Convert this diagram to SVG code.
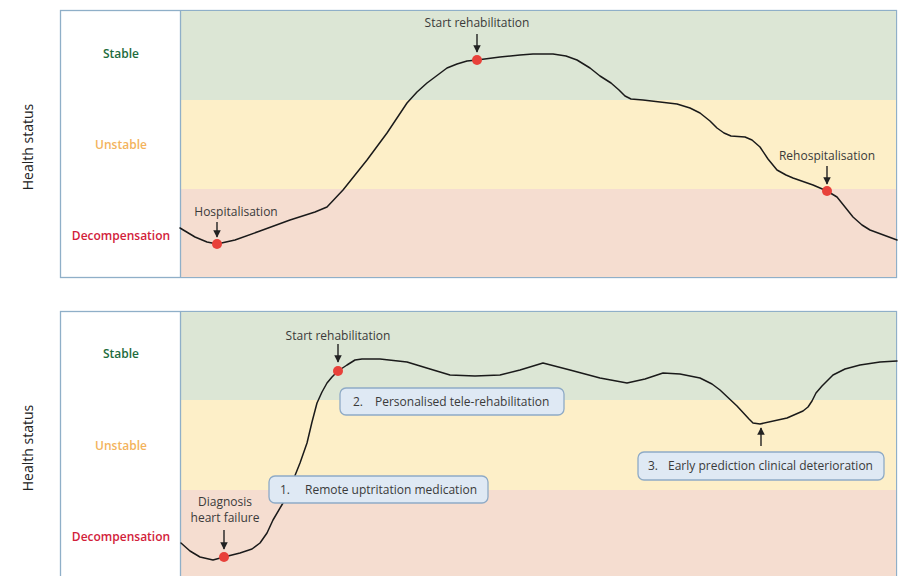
<svg xmlns="http://www.w3.org/2000/svg" width="899" height="576" viewBox="0 0 899 576">
  <defs>
    <marker id="arrowhead" viewBox="0 0 10 10" refX="9" refY="5" markerWidth="5.4" markerHeight="5.4" orient="auto-start-reverse">
      <path d="M0,0 L10,5 L0,10 Z" fill="#222"/>
    </marker>
  </defs>
  <style>
    text { font-family: "Open Sans", "Liberation Sans", sans-serif; }
    .frame { fill: #fff; stroke: #8fafc8; stroke-width: 1.3; }
    .band-stable { fill: #dce6d5; }
    .band-unstable { fill: #fdefc8; }
    .band-decomp { fill: #f5ddd0; }
    .divider { stroke: #8fafc8; stroke-width: 1.3; }
    .axis { font-size: 14px; fill: #222; }
    .lvl { font-size: 12px; font-weight: 600; text-anchor: middle; }
    .lvl-stable { fill: #1d6b3d; }
    .lvl-unstable { fill: #f3b35c; }
    .lvl-decomp { fill: #d2213a; }
    .trend { fill: none; stroke: #1a1a1a; stroke-width: 1.5; stroke-linejoin: round; stroke-linecap: round; }
    .event { fill: #e8413a; }
    .note { font-size: 12px; fill: #3a3a3a; text-anchor: middle; }
    .pointer { stroke: #222; stroke-width: 1.4; fill: none; marker-end: url(#arrowhead); }
    .step rect { fill: #dfe9f4; stroke: #8eaac6; stroke-width: 1.3; }
    .step text { font-size: 12px; fill: #3a3a3a; }
  </style>

  <!-- Panel A: usual care trajectory -->
  <g id="panel-top">
    <rect class="frame" x="60.5" y="10.5" width="836" height="267"/>
    <rect class="band-stable" x="180.5" y="11" width="715.5" height="89"/>
    <rect class="band-unstable" x="180.5" y="100" width="715.5" height="89"/>
    <rect class="band-decomp" x="180.5" y="189" width="715.5" height="88"/>
    <line class="divider" x1="180.5" y1="10.5" x2="180.5" y2="277.5"/>
    <text class="axis" transform="translate(33,147) rotate(-90)" text-anchor="middle">Health status</text>
    <text class="lvl lvl-stable" x="121" y="58">Stable</text>
    <text class="lvl lvl-unstable" x="121" y="149">Unstable</text>
    <text class="lvl lvl-decomp" x="121" y="240">Decompensation</text>
  </g>

  <!-- Panel B: remote monitoring trajectory -->
  <g id="panel-bottom">
    <rect class="frame" x="60.5" y="311.5" width="836" height="280"/>
    <rect class="band-stable" x="180.5" y="312" width="715.5" height="88"/>
    <rect class="band-unstable" x="180.5" y="400" width="715.5" height="90"/>
    <rect class="band-decomp" x="180.5" y="490" width="715.5" height="101"/>
    <line class="divider" x1="180.5" y1="311.5" x2="180.5" y2="591"/>
    <text class="axis" transform="translate(33,448) rotate(-90)" text-anchor="middle">Health status</text>
    <text class="lvl lvl-stable" x="121" y="358">Stable</text>
    <text class="lvl lvl-unstable" x="121" y="450">Unstable</text>
    <text class="lvl lvl-decomp" x="121" y="541">Decompensation</text>
  </g>

  <g id="connectors">
    <path class="trend" d="M180,228 L195,237 L207,242 L217,244 L235,240 L260,231 L290,220 L315,212 L327,207 L343,190 L355,175 L367,160 L387,133 L397,118 L407,103 L417,92 L427,83 L447,68 L457,64 L467,61 L477,60 L500,57 L520,55 L533,54 L553,54 L566,56 L577,60 L590,68 L600,76 L611,83 L619,90 L625,96 L631,99 L643,100 L677,104 L690,108 L700,113 L710,121 L717,128 L724,133 L731,136 L745,137 L752,140 L760,147 L768,159 L777,170 L786,175 L793,178 L813,185 L827,191 L837,197 L845,207 L853,217 L862,225 L870,230 L897,240"/>
    <path class="trend" d="M181,543 L190,551 L200,557 L213,560 L224,557 L240,553 L252,549 L260,543 L267,533 L273,520 L283,503 L292,483 L300,463 L307,443 L312,422 L317,403 L322,392 L327,383 L332,377 L338,371 L347,365 L355,360 L362,359 L380,359 L407,362 L430,369 L450,375 L475,376 L500,375 L520,370 L543,363 L570,370 L600,378 L627,383 L645,379 L663,373 L680,374 L700,378 L712,384 L720,390 L737,406 L749,419 L753,423 L760,424 L787,418 L803,411 L808,407 L812,401 L816,393 L822,386 L833,375 L845,369 L860,365 L880,362 L897,361"/>
    <line class="pointer" x1="217" y1="222" x2="217" y2="237"/>
    <line class="pointer" x1="477" y1="34" x2="477" y2="52"/>
    <line class="pointer" x1="827" y1="166" x2="827" y2="184"/>
    <line class="pointer" x1="224" y1="530" x2="224" y2="549"/>
    <line class="pointer" x1="338" y1="344" x2="338" y2="362"/>
    <line class="pointer" x1="761" y1="446" x2="761" y2="428"/>
  </g>

  <g id="hospitalisation">
    <circle class="event" cx="217" cy="244" r="5"/>
    <text class="note" x="236" y="216">Hospitalisation</text>
  </g>
  <g id="start-rehab-top">
    <circle class="event" cx="477" cy="60" r="5"/>
    <text class="note" x="477" y="27">Start rehabilitation</text>
  </g>
  <g id="rehospitalisation">
    <circle class="event" cx="827" cy="191" r="5"/>
    <text class="note" x="827" y="160">Rehospitalisation</text>
  </g>
  <g id="diagnosis">
    <circle class="event" cx="224" cy="557" r="5"/>
    <text class="note" x="225" y="506">Diagnosis</text>
    <text class="note" x="225" y="522">heart failure</text>
  </g>
  <g id="start-rehab-bottom">
    <circle class="event" cx="338" cy="371" r="5"/>
    <text class="note" x="338" y="340">Start rehabilitation</text>
  </g>

  <g id="step-1" class="step">
    <rect x="269" y="476" width="219" height="27" rx="6"/>
    <text x="280" y="494">1.</text>
    <text x="305" y="494">Remote uptritation medication</text>
  </g>
  <g id="step-2" class="step">
    <rect x="340" y="388" width="224" height="27" rx="6"/>
    <text x="353" y="406">2.</text>
    <text x="375" y="406">Personalised tele-rehabilitation</text>
  </g>
  <g id="step-3" class="step">
    <rect x="638" y="452" width="246" height="28" rx="6"/>
    <text x="648" y="470">3.</text>
    <text x="668" y="470">Early prediction clinical deterioration</text>
  </g>
</svg>
